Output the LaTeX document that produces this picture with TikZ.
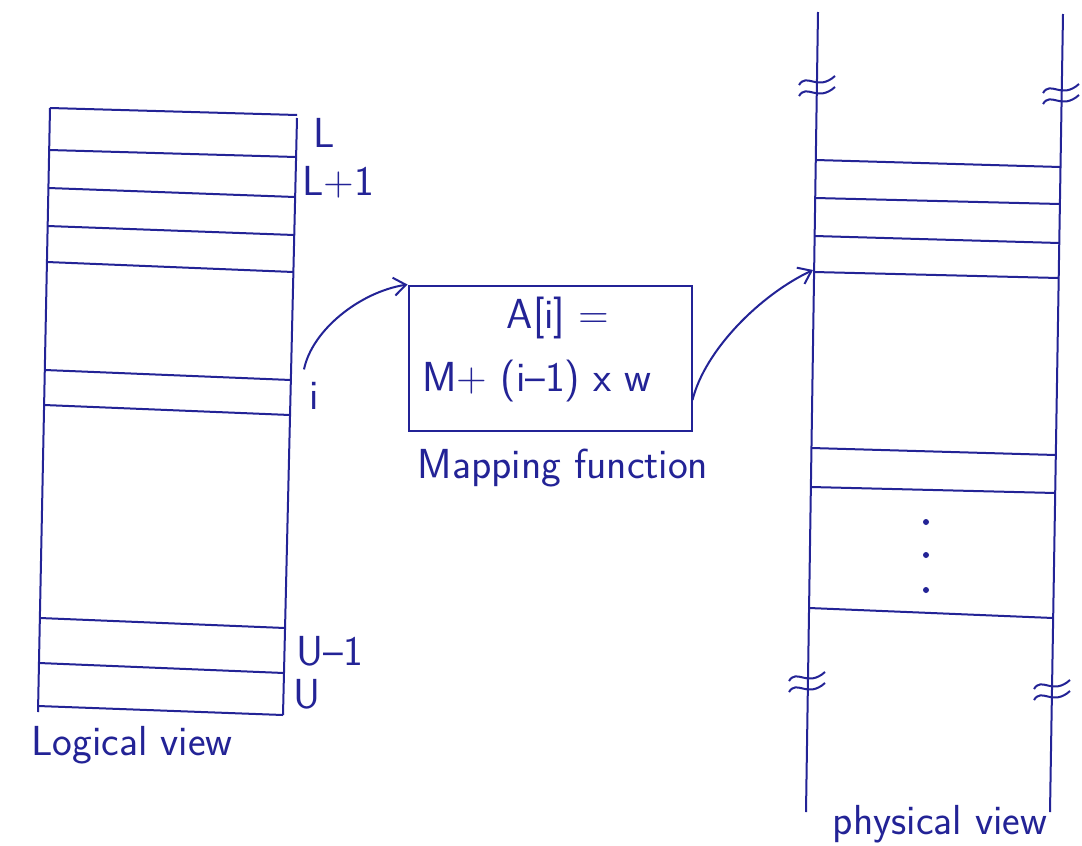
\documentclass[tikz,border=0pt]{standalone}
\usetikzlibrary{arrows.meta}
\definecolor{ink}{RGB}{35,35,150}
\begin{document}
\begin{tikzpicture}[x=1pt,y=-1pt,line width=2pt,draw=ink,
  lbl/.style={font=\fontsize{42}{46}\selectfont\sffamily,text=ink,inner sep=0pt},
  arr/.style={-{Straight Barb[length=12pt,width=18pt,line width=2pt]}},
  dot/.style={circle,fill=ink,inner sep=0pt,minimum size=6pt},
  pics/breakmark/.style={code={
    \draw[ink,line width=2pt] (-18,3) .. controls (-10,-10) and (0,10) .. (18,-6);
    \draw[ink,line width=2pt] (-18,14) .. controls (-10,1) and (0,21) .. (18,5);
  }}]
\useasboundingbox[fill=white] (0,0) rectangle (1082,846);

% ---------- logical view ----------
\coordinate (LTL) at (50,108);
\coordinate (LBL) at (38,712);
\coordinate (LTR) at (297,118);
\coordinate (LBR) at (283,715);
\draw (LTL) -- (LBL);
\draw (LTR) -- (LBR);
\foreach \a/\b in {108/115,150/157,188/197,226/235,262/272,370/380,405/415,618/628,663/673,706/715}{
  \pgfmathsetmacro{\xl}{50-12*(\a-108)/604}
  \pgfmathsetmacro{\xr}{297-14*(\b-118)/597}
  \draw (\xl,\a) -- (\xr,\b);
}
\node[lbl] (lL)  at (324,133) {L};
\node[lbl] (lL1) at (338,182) {L+1};
\node[lbl] (li)  at (314,396) {i};
\node[lbl] (lU1) at (330,651) {U--1};
\node[lbl] (lU)  at (307,694) {U};
\node[lbl] (logv) at (132,745) {Logical view};

% ---------- mapping function ----------
\node[draw=ink,line width=2pt,minimum width=283pt,minimum height=145pt,inner sep=0pt] (map) at (550,358) {};
\node[lbl] (f1) at (558,318) {A[i] =};
\node[lbl] (f2) at (537,381) {M+ (i--1) x w};
\node[lbl] (mapl) at (563,468) {Mapping function};

% ---------- physical view ----------
\coordinate (PTL) at (818,12);
\coordinate (PBL) at (806,812);
\coordinate (PTR) at (1063,14);
\coordinate (PBR) at (1050,812);
\draw (PTL) -- (PBL);
\draw (PTR) -- (PBR);
\foreach \a/\b in {160/167,198/204,236/243,272/278,448/455,487/493,608/618}{
  \pgfmathsetmacro{\xl}{818-12*(\a-12)/800}
  \pgfmathsetmacro{\xr}{1063-13*(\b-14)/798}
  \draw (\xl,\a) -- (\xr,\b);
}
\pic (b1) at (817,82) {breakmark};
\pic (b2) at (1061,90) {breakmark};
\pic (b3) at (807,678) {breakmark};
\pic (b4) at (1052,686) {breakmark};
\node[dot] (d1) at (926,522) {};
\node[dot] (d2) at (926,555) {};
\node[dot] (d3) at (926,590) {};
\node[lbl] (physv) at (940,824) {physical view};

% ---------- connectors ----------
\coordinate (pin) at (813,270);
\draw[arr] (li.north) ++(-10,-12) coordinate (istart)
  .. controls (312,330) and (360,292) .. (map.north west);
\draw[arr] ([yshift=-42pt]map.east) .. controls (705,350) and (760,295) .. (pin);
\end{tikzpicture}
\end{document}
